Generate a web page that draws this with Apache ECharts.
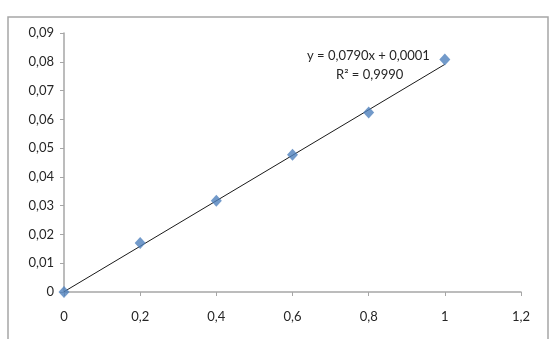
<!DOCTYPE html>
<html lang="en">
<head>
    <meta charset="UTF-8">
    <title>Trendline</title>
    <script src="https://cdn.jsdelivr.net/npm/echarts@6/dist/echarts.min.js"></script>
    <style>
        html, body { margin: 0; padding: 0; background: #fff; }
        #main { width: 552px; height: 339px; }
    </style>
</head>
<body>
<div id="main"></div>
<script>
    // measured points
    var xValues = [0, 0.2, 0.4, 0.6, 0.8, 1];
    var yValues = [0, 0.017, 0.0317, 0.0477, 0.0624, 0.0808];
    // linear trendline ends (y = 0,0790x + 0,0001)
    var trendX = [0, 1];
    var trendY = [0.0001, 0.0791];
    var eqText = 'y = 0,0790x + 0,0001';
    var r2Text = 'R² = 0,9990';

    var fmt = function (v) {
        return String(Math.round(v * 100) / 100).replace('.', ',');
    };

    var points = [];
    for (var i = 0; i < xValues.length; i++) {
        points.push([xValues[i], yValues[i]]);
    }
    var trend = [];
    for (var j = 0; j < trendX.length; j++) {
        trend.push([trendX[j], trendY[j]]);
    }

    var myChart = echarts.init(document.getElementById('main'));
    var axisColor = '#a6a6a6';
    var labelStyle = { color: '#262626', fontSize: 13, fontFamily: 'Lato' };
    var option = {
        animation: false,
        grid: { left: 64, right: 31, top: 33, bottom: 47 },
        xAxis: {
            type: 'value',
            min: 0, max: 1.2, interval: 0.2,
            axisLine: { lineStyle: { color: axisColor, width: 1.5 } },
            axisTick: { show: true, length: 4, lineStyle: { color: axisColor } },
            splitLine: { show: false },
            axisLabel: Object.assign({ margin: 18, formatter: fmt }, labelStyle)
        },
        yAxis: {
            type: 'value',
            min: 0, max: 0.09, interval: 0.01,
            axisLine: { show: true, lineStyle: { color: axisColor, width: 1.5 } },
            axisTick: { show: true, length: 4, lineStyle: { color: axisColor } },
            splitLine: { show: false },
            axisLabel: Object.assign({ margin: 10, formatter: fmt }, labelStyle)
        },
        graphic: [
            {
                type: 'rect',
                shape: { x: 8, y: 17, width: 540, height: 340 },
                style: { fill: 'none', stroke: '#a6a6a6', lineWidth: 1.5 },
                z: -1
            },
            {
                type: 'text', left: 307, top: 49,
                style: { text: eqText, fill: '#262626', font: '13px Lato' }
            },
            {
                type: 'text', left: 336, top: 68,
                style: { text: r2Text, fill: '#262626', font: '13px Lato' }
            }
        ],
        series: [
            {
                type: 'line',
                data: trend,
                symbol: 'none',
                lineStyle: { color: '#1a1a1a', width: 1 },
                z: 1
            },
            {
                type: 'scatter',
                data: points,
                symbol: 'diamond',
                symbolSize: [11, 12],
                itemStyle: { color: '#4f81bd' },
                z: 2
            }
        ]
    };
    myChart.setOption(option);
</script>
</body>
</html>
